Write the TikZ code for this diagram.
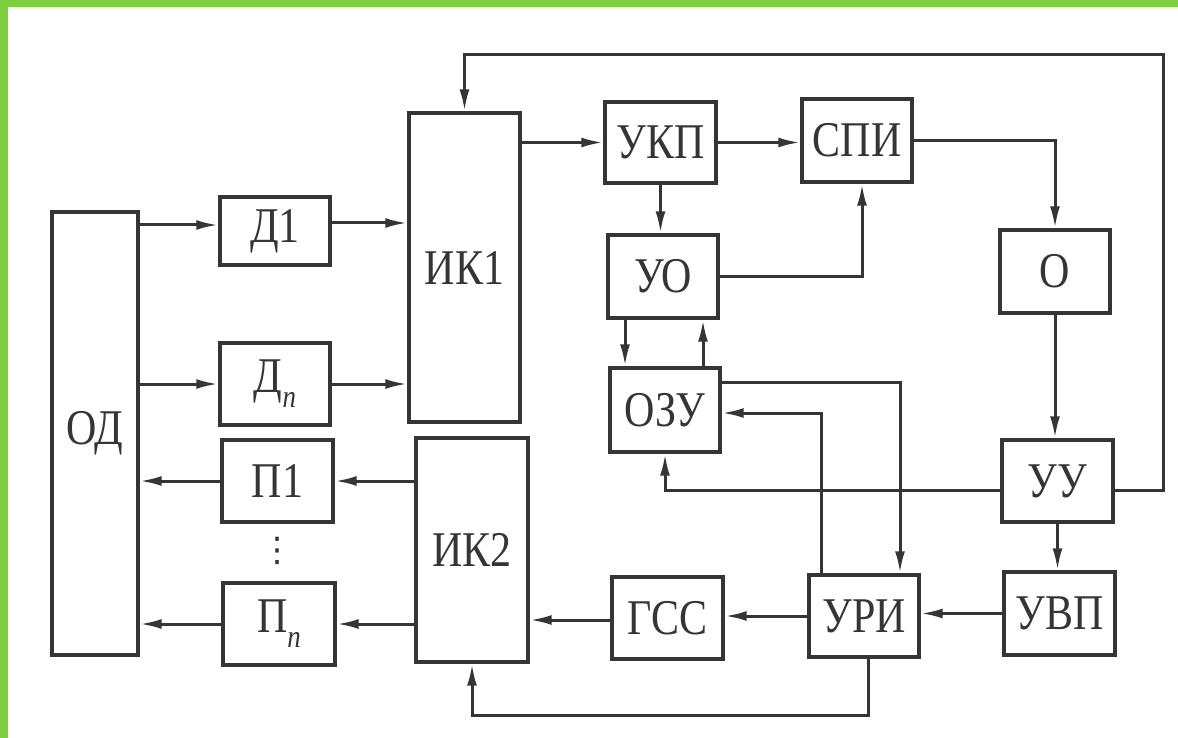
\documentclass[tikz,border=0pt]{standalone}
\usepackage{fontspec}
\setmainfont{Liberation Serif}
\newfontfamily\symfont{DejaVu Sans}
\usetikzlibrary{arrows.meta,calc}
\definecolor{ink}{HTML}{353535}
\definecolor{framegreen}{HTML}{7ECF3F}
\newcommand{\lab}[1]{\scalebox{0.84}[1]{#1}}
\newcommand{\subn}{\raisebox{-0.3em}{\fontsize{32}{32}\selectfont\itshape n}}
\begin{document}
\begin{tikzpicture}[x=1pt,y=-1pt,
  blk/.style={draw=ink, line width=3.4pt, inner sep=0pt, font=\fontsize{50}{50}\selectfont, text=ink},
  arr/.style={draw=ink, line width=3pt, -{Latex[length=22pt,width=10pt]}},
  ]
\useasboundingbox (0,0) rectangle (1178,738);
\fill[white] (0,0) rectangle (1178,738);
\fill[framegreen] (0,0) rectangle (1178,7);
\fill[framegreen] (0,0) rectangle (8,738);

% blocks
\node[blk, minimum width=86pt, minimum height=443pt] (OD) at (95,433.5) {\lab{ОД}};
\node[blk, minimum width=110pt, minimum height=68pt] (D1) at (275,231) {\lab{Д1}};
\node[blk, minimum width=110pt, minimum height=82pt] (Dn) at (275,384) {\lab{Д\subn}};
\node[blk, minimum width=111pt, minimum height=82pt] (P1) at (277.5,481) {\lab{П1}};
\node[text=ink, font=\symfont\fontsize{34}{34}\selectfont] (dots) at (277.5,551) {⋮};
\node[blk, minimum width=112pt, minimum height=82pt] (Pn) at (279,624) {\lab{П\subn}};
\node[blk, minimum width=111pt, minimum height=309pt] (IK1) at (464.5,267.5) {\lab{ИК1}};
\node[blk, minimum width=112pt, minimum height=224pt] (IK2) at (472,550) {\lab{ИК2}};
\node[blk, minimum width=111pt, minimum height=81pt] (UKP) at (660.5,142.5) {\lab{УКП}};
\node[blk, minimum width=110pt, minimum height=83pt] (SPI) at (857,140.5) {\lab{СПИ}};
\node[blk, minimum width=110pt, minimum height=83pt] (UO) at (663,276.5) {\lab{УО}};
\node[blk, minimum width=110pt, minimum height=84pt] (OZU) at (665,410) {\lab{ОЗУ}};
\node[blk, minimum width=110pt, minimum height=83pt] (O) at (1055,271.5) {\lab{О}};
\node[blk, minimum width=111pt, minimum height=82pt] (UU) at (1057.5,481) {\lab{УУ}};
\node[blk, minimum width=111pt, minimum height=83pt] (UVP) at (1059.5,613.5) {\lab{УВП}};
\node[blk, minimum width=110pt, minimum height=82pt] (URI) at (864,616) {\lab{УРИ}};
\node[blk, minimum width=111pt, minimum height=82pt] (GSS) at (667.5,618) {\lab{ГСС}};

\coordinate (topR) at (1163,55);

% left side
\draw[arr] ([yshift=6pt]OD.east |- D1.west) -- ([yshift=6pt]D1.west);
\draw[arr] ([yshift=8pt]D1.east) -- ([yshift=8pt]D1.east -| IK1.west);
\draw[arr] (OD.east |- Dn.west) -- (Dn.west);
\draw[arr] (Dn.east) -- (Dn.east -| IK1.west);
\draw[arr] (P1.east -| IK2.west) -- (P1.east);
\draw[arr] (P1.west) -- (P1.west -| OD.east);
\draw[arr] (Pn.east -| IK2.west) -- (Pn.east);
\draw[arr] (Pn.west) -- (Pn.west -| OD.east);

% top row
\draw[arr] (UKP.west -| IK1.east) -- (UKP.west);
\draw[arr] (UKP.east) -- (UKP.east -| SPI.west);
\draw[arr] (UKP.south) -- (UKP.south |- UO.north);
\draw[arr] (UO.east) -| ([xshift=5pt]SPI.south);
\draw[arr] (SPI.east) -| (O.north);
\draw[arr] (O.south) -- (O.south |- UU.north);
\draw[arr] (UU.south) -- (UU.south |- UVP.north);

% UO <-> OZU
\draw[arr] ([xshift=-38pt]UO.south) -- ([xshift=-38pt]UO.south |- OZU.north);
\draw[arr] ([xshift=40pt]UO.south |- OZU.north) -- ([xshift=40pt]UO.south);

% OZU <-> URI, UU -> OZU
\draw[arr] ([yshift=28pt]OZU.east) -| ([xshift=36pt]URI.north);
\draw[arr] ([xshift=-43pt]URI.north) |- ([yshift=-3pt]OZU.east);
\draw[arr] ([yshift=-9pt]UU.west) -| (OZU.south);

% feedback loop to IK1
\draw[arr] ([yshift=-9pt]UU.east) -| (topR) -| (IK1.north);

% bottom row
\draw[arr] (UVP.west) -- (UVP.west -| URI.east);
\draw[arr] (URI.west) -- (URI.west -| GSS.east);
\draw[arr] ([yshift=-2pt]GSS.west) -- ([yshift=-2pt]GSS.west -| IK2.east);
\draw[arr] ([xshift=4pt]URI.south) |- ([yshift=-52pt]IK2.south) -- (IK2.south);
\end{tikzpicture}
\end{document}
